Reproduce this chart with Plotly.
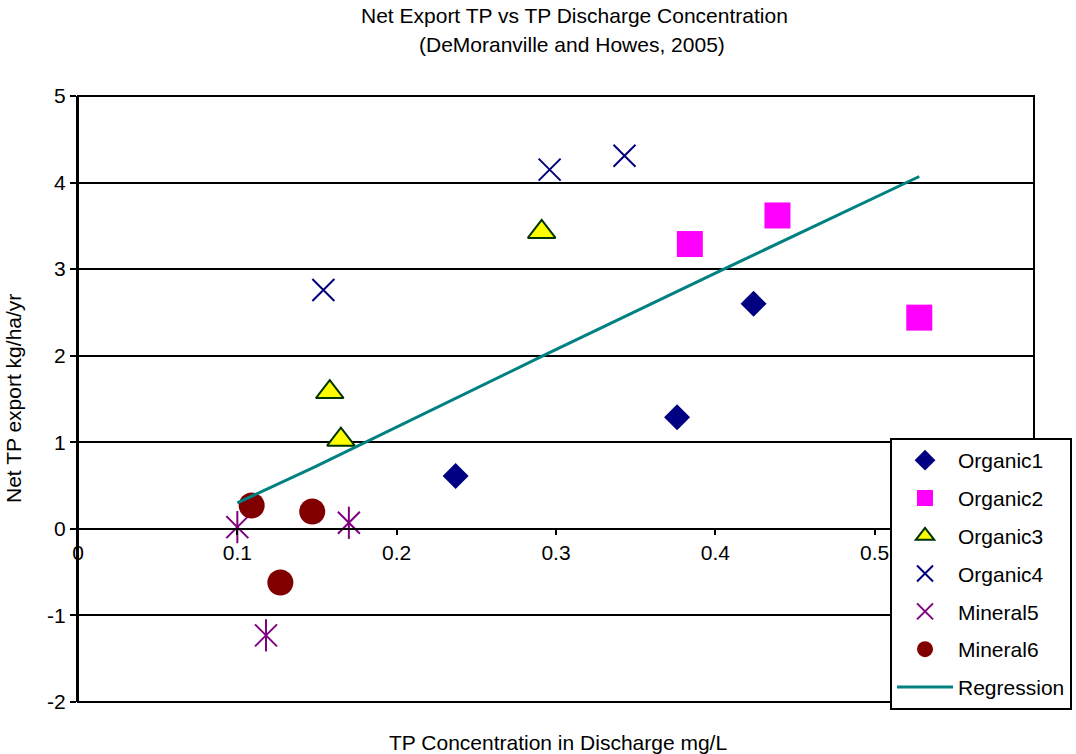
import plotly.graph_objects as go

# ---- data ----
org1_x = [0.237, 0.376, 0.424]
org1_y = [0.61, 1.29, 2.60]
org2_x = [0.384, 0.439, 0.528]
org2_y = [3.29, 3.62, 2.44]
org3_x = [0.158, 0.165, 0.291]
org3_y = [1.58, 1.03, 3.43]
org4_x = [0.154, 0.296, 0.343]
org4_y = [2.76, 4.15, 4.31]
min5_x = [0.100, 0.118, 0.170]
min5_y = [0.02, -1.23, 0.07]
min6_x = [0.109, 0.127, 0.147]
min6_y = [0.27, -0.62, 0.20]
reg_x = [0.100, 0.129, 0.148, 0.292, 0.403, 0.528]
reg_y = [0.30, 0.55, 0.71, 2.00, 2.98, 4.07]

x_ticks = [0, 0.1, 0.2, 0.3, 0.4, 0.5, 0.6]
x_ticklabels = ["0", "0.1", "0.2", "0.3", "0.4", "0.5", ""]  # 0.6 label hidden by legend
y_ticks = [-2, -1, 0, 1, 2, 3, 4, 5]
y_ticklabels = ["-2", "-1", "0", "1", "2", "3", "4", "5"]

FONT = "Liberation Sans, Arial, sans-serif"

fig = go.Figure()
fig.add_trace(go.Scatter(x=org1_x, y=org1_y, mode="markers", name="Organic1", legendgroup="g1",
                         marker=dict(symbol="diamond", size=20, color="#000080", line=dict(width=0))))
fig.add_trace(go.Scatter(x=org2_x, y=org2_y, mode="markers", name="Organic2", legendgroup="g2",
                         marker=dict(symbol="square", size=26, color="#FF00FF", line=dict(width=0))))
fig.add_trace(go.Scatter(x=org3_x, y=org3_y, mode="markers", name="Organic3", legendgroup="g3",
                         marker=dict(symbol="triangle-up", size=24, color="#FFFF00",
                                     line=dict(width=2, color="#003300"))))
fig.add_trace(go.Scatter(x=org4_x, y=org4_y, mode="markers", name="Organic4", legendgroup="g4",
                         marker=dict(symbol="x-thin-open", size=22, color="#000080",
                                     line=dict(width=2, color="#000080"))))
fig.add_trace(go.Scatter(x=min5_x, y=min5_y, mode="markers", name="Mineral5", legendgroup="g5",
                         marker=dict(symbol="x-thin-open", size=22, color="#800080",
                                     line=dict(width=2, color="#800080"))))
fig.add_trace(go.Scatter(x=min5_x, y=min5_y, mode="markers", name="Mineral5", legendgroup="g5",
                         showlegend=False,
                         marker=dict(symbol="line-ns-open", size=23, color="#800080",
                                     line=dict(width=2, color="#800080"))))
fig.add_trace(go.Scatter(x=min6_x, y=min6_y, mode="markers", name="Mineral6", legendgroup="g6",
                         marker=dict(symbol="circle", size=26, color="#800000", line=dict(width=0))))
fig.add_trace(go.Scatter(x=reg_x, y=reg_y, mode="lines", name="Regression", legendgroup="g7",
                         line=dict(color="#008080", width=3)))

fig.update_layout(
    width=1076, height=754,
    margin=dict(l=78, r=42, t=96, b=52, autoexpand=False),
    paper_bgcolor="white", plot_bgcolor="white",
    font=dict(family=FONT, size=21, color="black"),
    showlegend=True,
    legend=dict(x=0.8494, y=0.4356, xanchor="left", yanchor="top",
                bgcolor="white", bordercolor="black", borderwidth=2,
                font=dict(family=FONT, size=21, color="black"),
                itemwidth=56,
                tracegroupgap=7.5, traceorder="grouped"),
    xaxis=dict(range=[0, 0.6], tickvals=x_ticks, ticktext=x_ticklabels,
               anchor="free", position=2/7, showline=True, linecolor="black", linewidth=2,
               ticks="outside", ticklen=5, tickwidth=2, tickcolor="black",
               showgrid=False, zeroline=False, automargin=False,
               tickfont=dict(family=FONT, size=21, color="black")),
    yaxis=dict(range=[-2, 5], tickvals=y_ticks, ticktext=y_ticklabels, domain=[0, 1],
               showline=True, linecolor="black", linewidth=2,
               ticks="outside", ticklen=6, tickwidth=2, tickcolor="black",
               showgrid=True, gridcolor="black", gridwidth=2, zeroline=False, automargin=False,
               tickfont=dict(family=FONT, size=21, color="black")),
    shapes=[dict(type="rect", xref="paper", yref="paper", x0=0, x1=1, y0=0, y1=1,
                 line=dict(color="black", width=2), layer="below")],
    annotations=[
        dict(text="Net Export TP vs TP Discharge Concentration", xref="paper", yref="paper",
             x=(574 - 78) / 956, y=(702 - 15) / 606, xanchor="center", yanchor="middle",
             showarrow=False, font=dict(family=FONT, size=21, color="black")),
        dict(text="(DeMoranville and Howes, 2005)", xref="paper", yref="paper",
             x=(572 - 78) / 956, y=(702 - 44) / 606, xanchor="center", yanchor="middle",
             showarrow=False, font=dict(family=FONT, size=21, color="black")),
        dict(text="TP Concentration in Discharge mg/L", xref="paper", yref="paper",
             x=(558 - 78) / 956, y=(702 - 742) / 606, xanchor="center", yanchor="middle",
             showarrow=False, font=dict(family=FONT, size=21, color="black")),
        dict(text="Net TP export kg/ha/yr", xref="paper", yref="paper", textangle=-90,
             x=(13 - 78) / 956, y=0.5, xanchor="center", yanchor="middle",
             showarrow=False, font=dict(family=FONT, size=21, color="black")),
    ],
)

fig.write_html("out.html", config={"displayModeBar": False},
               post_script="document.body.style.margin='0px'; document.body.style.overflow='hidden';")
